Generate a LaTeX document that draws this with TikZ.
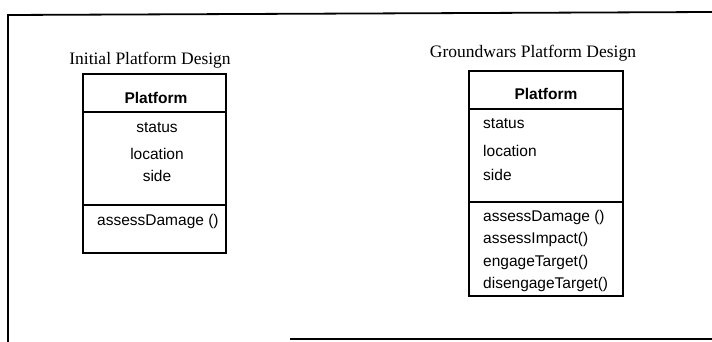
\documentclass[tikz,border=0pt]{standalone}
\usepackage{fontspec}
\setmainfont{Liberation Serif}
\setsansfont{Liberation Sans}

\tikzset{
  heading/.style={font=\fontsize{17.5}{20}\selectfont, inner sep=0pt},
  member/.style={font=\sffamily\fontsize{15.5}{18}\selectfont, inner sep=0pt, text height=11pt, text depth=3pt},
  classname/.style={member, font=\sffamily\bfseries\fontsize{15.5}{18}\selectfont},
  frame/.style={line width=1.8pt},
  classbox/.style={line width=1.3pt}
}

\begin{document}
\begin{tikzpicture}[x=1pt,y=-1pt]
\useasboundingbox (0,0) rectangle (712,342);

\draw[frame] (712,12) -- (8,15) -- (8,342);
\draw[frame] (290,339) -- (712,339);

% initial design
\node[heading] (initTitle) at (150,60) {Initial Platform Design};
\draw[classbox] (83,74) rectangle (226,253);
\draw[classbox] (83,112) -- (226,112);
\draw[classbox] (83,205) -- (226,205);

\node[classname] (initName) at (156,100) {Platform};
\node[member] (initStatus) at (157,128) {status};
\node[member] (initLocation) at (157,156) {location};
\node[member] (initSide) at (157,178) {side};
\node[member, anchor=west] (initDamage) at (97,221) {assessDamage ()};

% groundwars design
\node[heading] (gwTitle) at (533,53) {Groundwars Platform Design};
\draw[classbox] (469,71) rectangle (623,296);
\draw[classbox] (469,109) -- (623,109);
\draw[classbox] (469,202) -- (623,202);

\node[classname] (gwName) at (546,96) {Platform};
\node[member, anchor=west] (gwStatus) at (483,125) {status};
\node[member, anchor=west] (gwLocation) at (483,153) {location};
\node[member, anchor=west] (gwSide) at (483,176) {side};

\node[member, anchor=west] (gwDamage) at (483,217) {assessDamage ()};
\node[member, anchor=west] (gwImpact) at (483,239) {assessImpact()};
\node[member, anchor=west] (gwEngage) at (483,262) {engageTarget()};
\node[member, anchor=west] (gwDisengage) at (483,284) {disengageTarget()};
\end{tikzpicture}
\end{document}
